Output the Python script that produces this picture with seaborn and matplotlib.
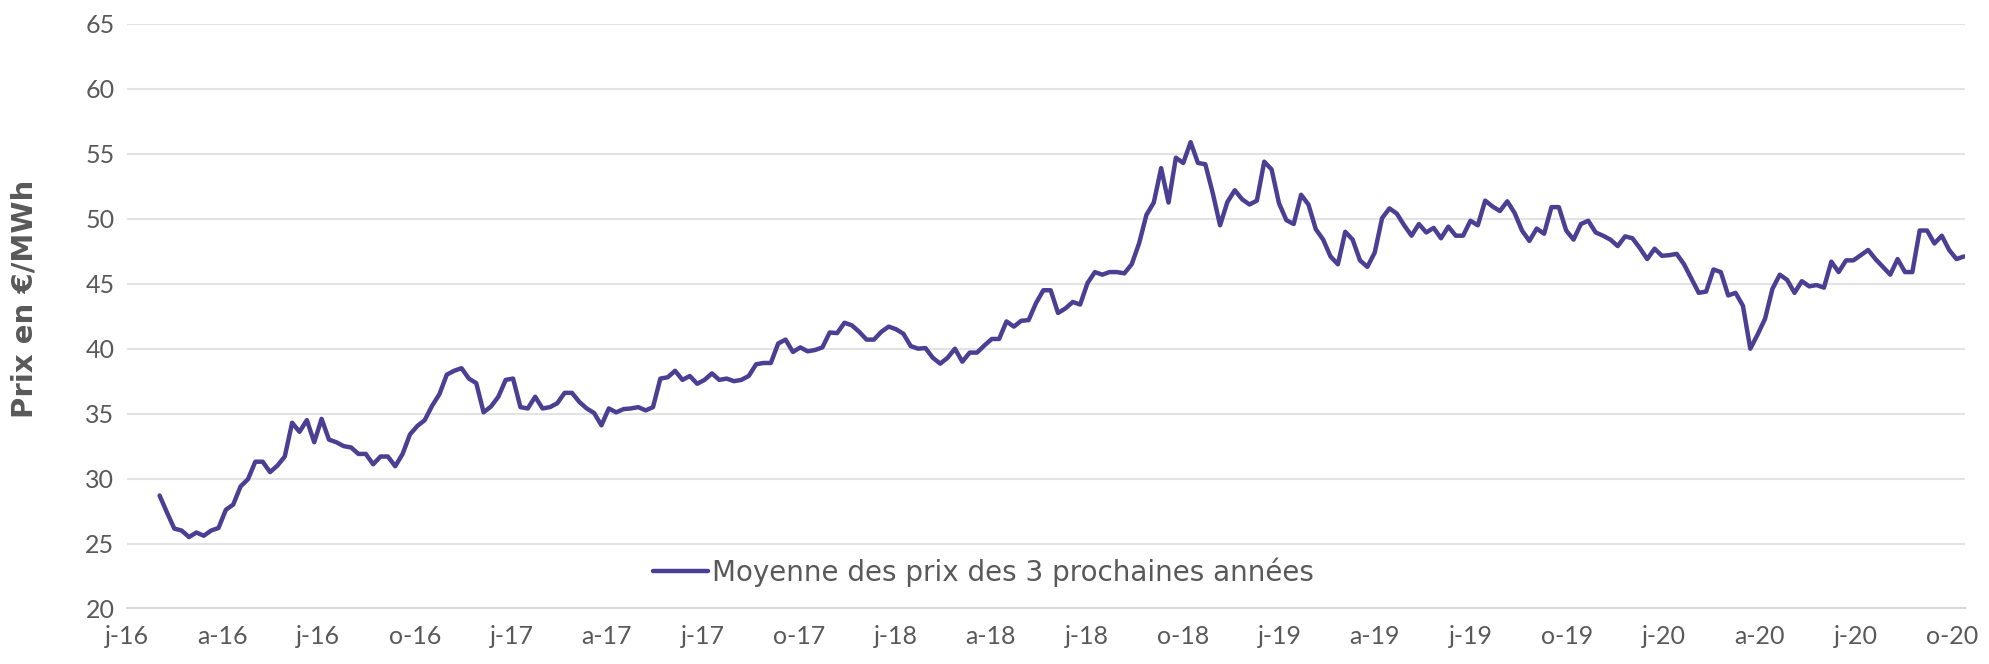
"""Weekly average of forward electricity prices for the next three years."""

import matplotlib.pyplot as plt
import pandas as pd
import seaborn as sns

# weekly values (EUR/MWh)
START_DATE = "2016-02-01"
PRICES = [
    28.7, 27.4, 26.15, 26.0, 25.5, 25.85, 25.6, 26.0, 26.2, 27.6,
    28.0, 29.4, 29.95, 31.3, 31.3, 30.5, 31.0, 31.7, 34.3, 33.6,
    34.5, 32.8, 34.6, 33.0, 32.8, 32.5, 32.4, 31.9, 31.9, 31.1,
    31.7, 31.7, 30.95, 31.9, 33.4, 34.05, 34.5, 35.6, 36.5, 38.0,
    38.3,
    38.5, 37.7, 37.35, 35.1, 35.55, 36.3, 37.6, 37.7, 35.5, 35.4,
    36.3, 35.4, 35.5, 35.8, 36.6, 36.6, 35.9, 35.4, 35.05, 34.1,
    35.4, 35.1, 35.35, 35.4, 35.5, 35.25, 35.5, 37.7, 37.8, 38.3,
    37.6, 37.9, 37.3, 37.6, 38.1, 37.6, 37.7, 37.5, 37.6, 37.9,
    38.8, 38.9,
    38.9, 40.4, 40.7, 39.75, 40.1, 39.8, 39.9, 40.1, 41.25, 41.2,
    42.0, 41.8, 41.3, 40.7, 40.7, 41.3, 41.7, 41.5, 41.15, 40.2,
    40.0, 40.05, 39.3, 38.85, 39.3, 40.0, 39.0, 39.7, 39.7, 40.25,
    40.75, 40.75, 42.1, 41.7, 42.15, 42.2, 43.5, 44.5, 44.5, 42.75,
    43.1, 43.6, 43.4,
    45.05, 45.9, 45.7, 45.9, 45.9, 45.8, 46.5, 48.1, 50.3, 51.25,
    53.9, 51.25, 54.7, 54.3, 55.9, 54.3, 54.2, 52.0, 49.5, 51.3,
    52.2, 51.5, 51.1, 51.4, 54.4, 53.8, 51.2, 49.9, 49.6, 51.85,
    51.1, 49.2, 48.4, 47.1, 46.5, 49.0, 48.4, 46.8, 46.3, 47.4,
    50.05, 50.8, 50.4, 49.5,
    48.7, 49.6, 48.95, 49.3, 48.5, 49.4, 48.7, 48.7, 49.85, 49.5,
    51.4, 50.95, 50.6, 51.35, 50.45, 49.1, 48.3, 49.25, 48.85, 50.9,
    50.9, 49.1, 48.4, 49.6, 49.85, 48.95, 48.7, 48.4, 47.9, 48.65,
    48.5, 47.75, 46.9, 47.7, 47.15, 47.2, 47.3, 46.5, 45.4, 44.3,
    44.4, 46.1, 45.9, 44.1, 44.3, 43.3, 40.0, 41.1, 42.3, 44.6,
    45.7, 45.3, 44.3, 45.2, 44.8, 44.9, 44.7, 46.7, 45.9, 46.8,
    46.8, 47.2, 47.6, 46.9, 46.3, 45.7, 46.9, 45.9, 45.9, 49.1,
    49.1, 48.1, 48.7, 47.6, 46.9, 47.1,
]
SERIES_LABEL = "Moyenne des prix des 3 prochaines années"

TICK_DATES = [
    "2016-01-01", "2016-04-01", "2016-07-01", "2016-10-01",
    "2017-01-01", "2017-04-01", "2017-07-01", "2017-10-01",
    "2018-01-01", "2018-04-01", "2018-07-01", "2018-10-01",
    "2019-01-01", "2019-04-01", "2019-07-01", "2019-10-01",
    "2020-01-01", "2020-04-01", "2020-07-01", "2020-10-01",
]
TICK_LABELS = [
    "j-16", "a-16", "j-16", "o-16",
    "j-17", "a-17", "j-17", "o-17",
    "j-18", "a-18", "j-18", "o-18",
    "j-19", "a-19", "j-19", "o-19",
    "j-20", "a-20", "j-20", "o-20",
]
Y_TICKS = [20, 25, 30, 35, 40, 45, 50, 55, 60, 65]

LINE_COLOR = "#4B3F93"
TEXT_GRAY = "#595959"
GRID_GRAY = "#E3E3E3"

sns.set_theme(style="white")
plt.rcParams["font.family"] = ["Lato", "DejaVu Sans"]

frame = pd.DataFrame(
    {
        "date": pd.date_range(START_DATE, periods=len(PRICES), freq="7D"),
        "price": PRICES,
        "serie": SERIES_LABEL,
    }
)

fig = plt.figure(figsize=(19.9, 6.64), dpi=100)
ax = fig.add_axes([0.0638, 0.0836, 0.9236, 0.8803])

sns.lineplot(data=frame, x="date", y="price", hue="serie", palette=[LINE_COLOR], linewidth=3.2, ax=ax)

ax.set_xlim(pd.Timestamp("2016-01-01"), pd.Timestamp("2020-10-13"))
ax.set_ylim(20, 65)
ax.set_yticks(Y_TICKS)
ax.set_xticks(pd.to_datetime(TICK_DATES))
ax.set_xticklabels(TICK_LABELS)

ax.grid(axis="y", color=GRID_GRAY, linewidth=1.5)
ax.set_axisbelow(True)
for side in ["left", "right", "top"]:
    ax.spines[side].set_visible(False)
ax.spines["bottom"].set_color("#D9D9D9")
ax.spines["bottom"].set_linewidth(1.5)

ax.tick_params(axis="y", length=0, pad=9, labelsize=18, labelcolor=TEXT_GRAY)
ax.tick_params(axis="x", length=6, width=1.5, color="#D9D9D9", pad=6, labelsize=18, labelcolor=TEXT_GRAY)

ax.set_xlabel("")
ax.set_ylabel("Prix en €/MWh", fontsize=21, fontweight="bold", color=TEXT_GRAY, family="DejaVu Sans")
ax.yaxis.set_label_coords(-0.048, 0.53)

ax.legend(
    loc="center",
    bbox_to_anchor=(0.466, 0.0625),
    frameon=False,
    prop={"family": "DejaVu Sans", "size": 20},
    labelcolor=TEXT_GRAY,
    handlelength=2.0,
    handletextpad=0.15,
)

fig.savefig("out.png", dpi=100)
